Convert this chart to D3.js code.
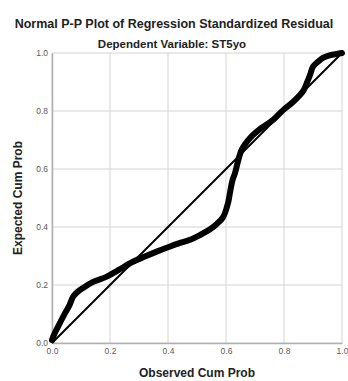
<!DOCTYPE html>
<html>
<head>
<meta charset="utf-8">
<script src="https://cdn.jsdelivr.net/npm/d3@7"></script>
<style>
  html, body { margin: 0; padding: 0; background: #fff; }
  svg { display: block; font-family: "Liberation Sans", Arial, sans-serif; }
</style>
</head>
<body>
<svg id="chart" width="348" height="381"></svg>
<script>
// Observed vs expected cumulative probability of the standardized residuals
const observedCumProb = [0.000, 0.004, 0.020, 0.045, 0.060, 0.073, 0.090, 0.107, 0.140, 0.189, 0.230, 0.279, 0.320, 0.361, 0.400, 0.441, 0.479, 0.510, 0.545, 0.570, 0.590, 0.607, 0.614, 0.622, 0.631, 0.654, 0.683, 0.720, 0.762, 0.797, 0.830, 0.855, 0.868, 0.878, 0.890, 0.900, 0.915, 0.934, 0.960, 0.982, 1.000];
const expectedCumProb = [0.010, 0.022, 0.055, 0.103, 0.130, 0.160, 0.178, 0.190, 0.210, 0.229, 0.252, 0.280, 0.298, 0.315, 0.330, 0.345, 0.357, 0.372, 0.392, 0.412, 0.434, 0.483, 0.520, 0.560, 0.586, 0.666, 0.707, 0.740, 0.769, 0.803, 0.830, 0.855, 0.872, 0.895, 0.925, 0.953, 0.968, 0.983, 0.993, 0.997, 1.000];
const tickValues = [0.0, 0.2, 0.4, 0.6, 0.8, 1.0];

const svg = d3.select("#chart");
const margin = { left: 52, right: 6, top: 53, bottom: 38 };
const W = 348, H = 381;

const x = d3.scaleLinear().domain([0, 1]).range([margin.left, W - margin.right]);
const y = d3.scaleLinear().domain([0, 1]).range([H - margin.bottom, margin.top]);

// gridlines
const grid = svg.append("g");
grid.selectAll("line.v").data(tickValues).join("line")
  .attr("x1", d => x(d)).attr("x2", d => x(d))
  .attr("y1", y(0)).attr("y2", y(1))
  .attr("stroke", "#d4d4d4").attr("stroke-width", 1);
grid.selectAll("line.h").data(tickValues).join("line")
  .attr("x1", x(0)).attr("x2", x(1))
  .attr("y1", d => y(d)).attr("y2", d => y(d))
  .attr("stroke", "#d4d4d4").attr("stroke-width", 1);

// axes
const fmt = d3.format(".1f");
const xAxis = svg.append("g").attr("transform", `translate(0,${y(0)})`)
  .call(d3.axisBottom(x).tickValues(tickValues).tickFormat(fmt).tickSize(0).tickPadding(5));
const yAxis = svg.append("g").attr("transform", `translate(${x(0)},0)`)
  .call(d3.axisLeft(y).tickValues(tickValues).tickFormat(fmt).tickSize(0).tickPadding(4));
[xAxis, yAxis].forEach(a => {
  a.select(".domain").attr("stroke", "#b0b0b0").attr("stroke-width", 1.5);
  a.selectAll("text").attr("fill", "#5a5a5a").attr("font-size", 8.5)
    .attr("font-family", "Liberation Sans, Arial, sans-serif");
});

// reference diagonal
svg.append("line")
  .attr("x1", x(0)).attr("y1", y(0)).attr("x2", x(1)).attr("y2", y(1))
  .attr("stroke", "#000").attr("stroke-width", 2);

// P-P curve
const pts = observedCumProb.map((o, i) => [o, expectedCumProb[i]]);
const line = d3.line().x(d => x(d[0])).y(d => y(d[1])).curve(d3.curveCatmullRom.alpha(0.5));
svg.append("path").datum(pts)
  .attr("d", line)
  .attr("fill", "none").attr("stroke", "#000").attr("stroke-width", 6)
  .attr("stroke-linecap", "round").attr("stroke-linejoin", "round");

// titles
svg.append("text").attr("x", 174).attr("y", 28).attr("text-anchor", "middle")
  .attr("font-size", 12.5).attr("font-weight", "bold").attr("fill", "#222")
  .text("Normal P-P Plot of Regression Standardized Residual");
svg.append("text").attr("x", 172).attr("y", 48).attr("text-anchor", "middle")
  .attr("font-size", 11.5).attr("font-weight", "bold").attr("fill", "#222")
  .text("Dependent Variable: ST5yo");
svg.append("text").attr("x", 197).attr("y", 377).attr("text-anchor", "middle")
  .attr("font-size", 12).attr("font-weight", "bold").attr("fill", "#222")
  .text("Observed Cum Prob");
svg.append("text").attr("transform", "translate(22,198) rotate(-90)").attr("text-anchor", "middle")
  .attr("font-size", 12).attr("font-weight", "bold").attr("fill", "#222")
  .text("Expected Cum Prob");
</script>
</body>
</html>
